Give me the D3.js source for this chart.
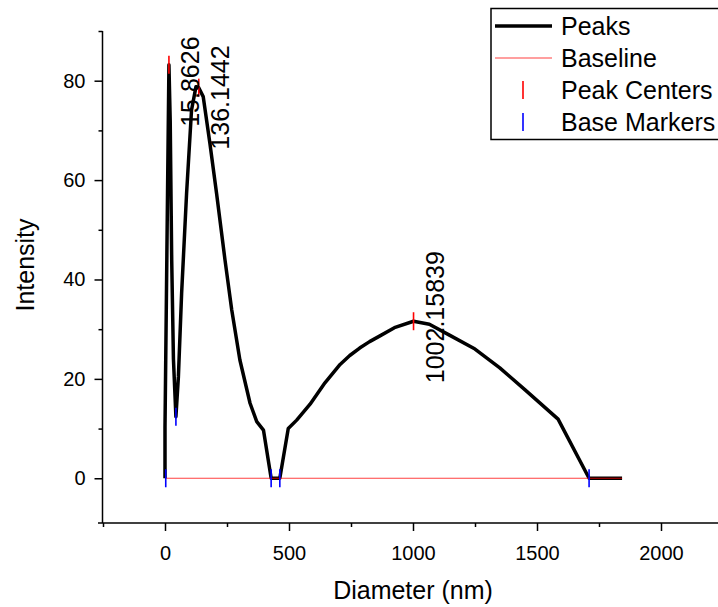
<!DOCTYPE html>
<html>
<head>
<meta charset="utf-8">
<script src="https://cdn.jsdelivr.net/npm/d3@7"></script>
<style>
  body { margin: 0; background: #fff; }
  text { font-family: "Liberation Sans", Arial, sans-serif; fill: #000; }
</style>
</head>
<body>
<svg id="svg" width="718" height="607"></svg>
<script>
// peak curve (diameter nm, intensity)
const curveX = [0, 0, 15.8626, 21, 27, 34, 44, 54, 67, 87, 107, 125, 136.1442, 154, 181, 208, 242, 269, 302, 343, 370, 397, 428, 463, 497, 531, 585, 645, 706, 745, 785, 825, 865, 925, 1002.15839, 1066, 1147, 1250, 1350, 1452, 1585, 1710, 1843];
const curveY = [0, 10.4, 83.2, 72, 44, 24, 12.4, 20.4, 37.2, 57.3, 74.1, 78.8, 78.6, 76.8, 67.4, 57.3, 43.9, 33.9, 23.8, 15.1, 11.4, 9.7, 0, 0, 10, 11.7, 14.9, 19.2, 22.9, 24.7, 26.2, 27.5, 28.6, 30.3, 31.6, 31.0, 28.8, 26, 22.2, 17.8, 11.9, 0, 0];
const baselineX = [0, 1843];
const baselineY = [0, 0];
const centerX = [15.8626, 136.1442, 1002.15839];
const centerY = [83.2, 78.6, 31.6];
const centerLabels = ['15.8626', '136.1442', '1002.15839'];
const baseX = [3, 44, 428, 463, 1710];
const baseY = [0, 12.4, 0, 0, 0];
const xTicks = [0, 500, 1000, 1500, 2000];
const xMinor = [-250, 250, 750, 1250, 1750, 2250];
const yTicks = [0, 20, 40, 60, 80];
const yMinor = [10, 30, 50, 70, 90];
const legendLabels = ['Peaks', 'Baseline', 'Peak Centers', 'Base Markers'];

let svg = d3.select('#svg');

let x = d3.scaleLinear().domain([-250, 2250]).range([103, 723]);
let y = d3.scaleLinear().domain([-9, 90]).range([523, 31]);

// axes
let xAxis = svg.append('g')
  .attr('transform', `translate(0, ${y.range()[0]})`)
  .call(d3.axisBottom(x).tickValues(xTicks).tickFormat(d3.format('d')).tickSize(8).tickPadding(15).tickSizeOuter(0));
xAxis.append('g')
  .call(d3.axisBottom(x).tickValues(xMinor).tickSize(4).tickFormat(''))
  .select('.domain').remove();

let yAxis = svg.append('g')
  .attr('transform', `translate(${x.range()[0] - 0.5}, 0)`)
  .call(d3.axisLeft(y).tickValues(yTicks).tickFormat(d3.format('d')).tickSize(8).tickPadding(9).tickSizeOuter(0));
yAxis.append('g')
  .call(d3.axisLeft(y).tickValues(yMinor).tickSize(4).tickFormat(''))
  .select('.domain').remove();

svg.selectAll('.domain').remove();
svg.selectAll('.tick line').attr('stroke', '#000').attr('stroke-width', 1.5);
svg.selectAll('.tick text').attr('font-size', 20).attr('font-family', '"Liberation Sans", Arial, sans-serif');

svg.append('line')
  .attr('x1', x.range()[0] - 5).attr('x2', x.range()[1])
  .attr('y1', y.range()[0]).attr('y2', y.range()[0])
  .attr('stroke', '#000').attr('stroke-width', 1.5);
svg.append('line')
  .attr('x1', x.range()[0] - 0.5).attr('x2', x.range()[0] - 0.5)
  .attr('y1', y.range()[1]).attr('y2', y.range()[0])
  .attr('stroke', '#000').attr('stroke-width', 1.5);

// titles
svg.append('text')
  .attr('x', (x.range()[0] + x.range()[1]) / 2)
  .attr('y', 599)
  .attr('text-anchor', 'middle')
  .attr('font-size', 25)
  .text('Diameter (nm)');
svg.append('text')
  .attr('transform', 'translate(34, 265) rotate(-90)')
  .attr('text-anchor', 'middle')
  .attr('font-size', 25)
  .text('Intensity');

// peaks curve
let line = d3.line()
  .x(d => x(d[0]))
  .y(d => y(d[1]));

svg.append('path')
  .datum(curveX.map((v, i) => [v, curveY[i]]))
  .attr('d', line)
  .attr('fill', 'none')
  .attr('stroke', '#000')
  .attr('stroke-width', 3.5)
  .attr('stroke-linejoin', 'round');

svg.append('path')
  .datum(baselineX.map((v, i) => [v, baselineY[i]]))
  .attr('d', line)
  .attr('fill', 'none')
  .attr('stroke', '#ff0000')
  .attr('stroke-opacity', 0.75)
  .attr('stroke-width', 1.2);

// markers
svg.selectAll('.center')
  .data(centerX)
  .enter()
  .append('line')
  .attr('class', 'center')
  .attr('x1', d => x(d)).attr('x2', d => x(d))
  .attr('y1', (d, i) => y(centerY[i]) - 9)
  .attr('y2', (d, i) => y(centerY[i]) + 9)
  .attr('stroke', '#ff0000')
  .attr('stroke-width', 1.6);

svg.selectAll('.base')
  .data(baseX)
  .enter()
  .append('line')
  .attr('class', 'base')
  .attr('x1', d => x(d)).attr('x2', d => x(d))
  .attr('y1', (d, i) => y(baseY[i]) - 9)
  .attr('y2', (d, i) => y(baseY[i]) + 9)
  .attr('stroke', '#0000ff')
  .attr('stroke-width', 1.6);

svg.selectAll('.plabel')
  .data(centerX)
  .enter()
  .append('text')
  .attr('class', 'plabel')
  .attr('transform', (d, i) => `translate(${x(d) + 30}, ${y(centerY[i]) + 62}) rotate(-90)`)
  .attr('font-size', 25)
  .text((d, i) => centerLabels[i]);

// legend
let legend = svg.append('g');
legend.append('rect')
  .attr('x', 491).attr('y', 8.5)
  .attr('width', 250).attr('height', 131)
  .attr('fill', '#fff')
  .attr('stroke', '#000')
  .attr('stroke-width', 1.5);

let items = legend.selectAll('.item')
  .data(legendLabels)
  .enter()
  .append('g')
  .attr('class', 'item')
  .attr('transform', (d, i) => `translate(0, ${26 + i * 32})`);

items.append('text')
  .attr('x', 561)
  .attr('y', 9)
  .attr('font-size', 25)
  .text(d => d);

items.filter((d, i) => i === 0).append('line')
  .attr('x1', 495).attr('x2', 552)
  .attr('stroke', '#000').attr('stroke-width', 3.5);
items.filter((d, i) => i === 1).append('line')
  .attr('x1', 495).attr('x2', 552)
  .attr('stroke', '#ff0000').attr('stroke-opacity', 0.75).attr('stroke-width', 1.2);
items.filter((d, i) => i === 2).append('line')
  .attr('x1', 523).attr('x2', 523).attr('y1', -9).attr('y2', 9)
  .attr('stroke', '#ff0000').attr('stroke-width', 1.6);
items.filter((d, i) => i === 3).append('line')
  .attr('x1', 523).attr('x2', 523).attr('y1', -9).attr('y2', 9)
  .attr('stroke', '#0000ff').attr('stroke-width', 1.6);
</script>
</body>
</html>
